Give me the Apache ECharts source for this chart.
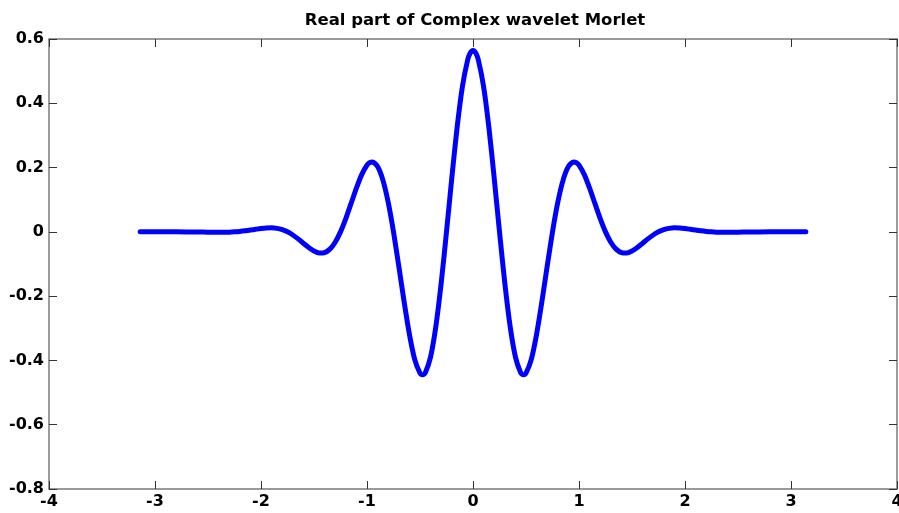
<!DOCTYPE html>
<html>
<head>
<meta charset="utf-8">
<script src="https://cdn.jsdelivr.net/npm/echarts@6/dist/echarts.min.js"></script>
<style>
  html, body { margin: 0; padding: 0; background: #fff; overflow: hidden; }
  #chart { width: 899px; height: 513px; }
</style>
</head>
<body>
<div id="chart"></div>
<script>
// Real part of the complex Morlet wavelet, sampled along x
const xValues = [
  -3.14, -3.0, -2.8, -2.6,
  -2.5, -2.45, -2.4, -2.35, -2.3, -2.25, -2.2, -2.15, -2.1, -2.05,
  -2.0, -1.95, -1.9, -1.85, -1.8, -1.75, -1.7, -1.65, -1.6, -1.55,
  -1.5, -1.45, -1.4, -1.35, -1.3, -1.25, -1.2, -1.15, -1.1, -1.05,
  -1.0, -0.975, -0.95, -0.9, -0.85, -0.8, -0.75, -0.7, -0.65, -0.6, -0.55,
  -0.5, -0.475, -0.45, -0.4, -0.35, -0.3, -0.25, -0.2, -0.15, -0.1, -0.05, -0.025,
  0.0,
  0.025, 0.05, 0.1, 0.15, 0.2, 0.25, 0.3, 0.35, 0.4, 0.45, 0.475, 0.5,
  0.55, 0.6, 0.65, 0.7, 0.75, 0.8, 0.85, 0.9, 0.95, 0.975, 1.0,
  1.05, 1.1, 1.15, 1.2, 1.25, 1.3, 1.35, 1.4, 1.45, 1.5,
  1.55, 1.6, 1.65, 1.7, 1.75, 1.8, 1.85, 1.9, 1.95, 2.0,
  2.05, 2.1, 2.15, 2.2, 2.25, 2.3, 2.35, 2.4, 2.45, 2.5,
  2.6, 2.8, 3.0, 3.14
];
const yValues = [
  0.0, 0.0, 0.0, -0.0005,
  -0.0011, -0.0014, -0.0015, -0.0013, -0.0009, 0.0, 0.0014, 0.0033, 0.0056, 0.0080,
  0.0103, 0.0120, 0.0124, 0.0108, 0.0068, 0.0, -0.0097, -0.0218, -0.0353, -0.0486,
  -0.0595, -0.0655, -0.0643, -0.0536, -0.0322, 0.0, 0.0413, 0.0884, 0.1361, 0.1782,
  0.2076, 0.2154, 0.2176, 0.2031, 0.1610, 0.0919, 0.0, -0.1068, -0.2174, -0.3184, -0.3965,
  -0.4394, -0.4447, -0.4383, -0.3889, -0.2934, -0.1593, 0.0, 0.1675, 0.3243, 0.4519, 0.5353, 0.5569,
  0.5642,
  0.5569, 0.5353, 0.4519, 0.3243, 0.1675, 0.0, -0.1593, -0.2934, -0.3889, -0.4383, -0.4447, -0.4394,
  -0.3965, -0.3184, -0.2174, -0.1068, 0.0, 0.0919, 0.1610, 0.2031, 0.2176, 0.2154, 0.2076,
  0.1782, 0.1361, 0.0884, 0.0413, 0.0, -0.0322, -0.0536, -0.0643, -0.0655, -0.0595,
  -0.0486, -0.0353, -0.0218, -0.0097, 0.0, 0.0068, 0.0108, 0.0124, 0.0120, 0.0103,
  0.0080, 0.0056, 0.0033, 0.0014, 0.0, -0.0009, -0.0013, -0.0015, -0.0014, -0.0011,
  -0.0005, 0.0, 0.0, 0.0
];
const xTicks = [-4, -3, -2, -1, 0, 1, 2, 3, 4];
const yTicks = [-0.8, -0.6, -0.4, -0.2, 0, 0.2, 0.4, 0.6];
const titleText = 'Real part of Complex wavelet Morlet';

const points = xValues.map((x, i) => [x, yValues[i]]);

const font = '"DejaVu Sans", sans-serif';
const frameColor = '#7a7a7a';
const tickColor = '#333333';

const hidden = { show: false };
const labelStyle = { color: '#000', fontFamily: font, fontWeight: 'bold', fontSize: 16 };

function frameAxis(extra) {
  return Object.assign({
    type: 'value',
    axisLine: { show: true, onZero: false, lineStyle: { color: frameColor, width: 1.5 } },
    axisTick: { show: true, inside: true, length: 8, lineStyle: { color: tickColor, width: 1 } },
    axisLabel: hidden,
    splitLine: hidden
  }, extra);
}

const xRange = { min: xTicks[0], max: xTicks[xTicks.length - 1], interval: 1 };
const yRange = { min: yTicks[0], max: yTicks[yTicks.length - 1], interval: 0.2 };

const chart = echarts.init(document.getElementById('chart'), null, { renderer: 'canvas' });
chart.setOption({
  animation: false,
  backgroundColor: '#ffffff',
  title: {
    text: titleText,
    left: 470, top: 7, textAlign: 'center',
    textStyle: { fontFamily: font, fontWeight: 'bold', fontSize: 16.5, color: '#000' }
  },
  grid: { left: 49, right: 2, top: 39, bottom: 24, containLabel: false, outerBoundsMode: 'none' },
  xAxis: [
    frameAxis(Object.assign({
      position: 'bottom',
      axisLabel: Object.assign({ margin: 5, formatter: v => String(v) }, labelStyle)
    }, xRange)),
    frameAxis(Object.assign({ position: 'top' }, xRange))
  ],
  yAxis: [
    frameAxis(Object.assign({
      position: 'left',
      axisLabel: Object.assign({ margin: 5, formatter: v => (Math.round(v * 10) / 10).toString() }, labelStyle)
    }, yRange)),
    frameAxis(Object.assign({ position: 'right' }, yRange))
  ],
  series: [{
    type: 'line',
    xAxisIndex: 0, yAxisIndex: 0,
    data: points,
    smooth: 0.25,
    showSymbol: false,
    lineStyle: { color: '#0000ff', width: 5, cap: 'round', join: 'round' }
  }]
});
</script>
</body>
</html>
